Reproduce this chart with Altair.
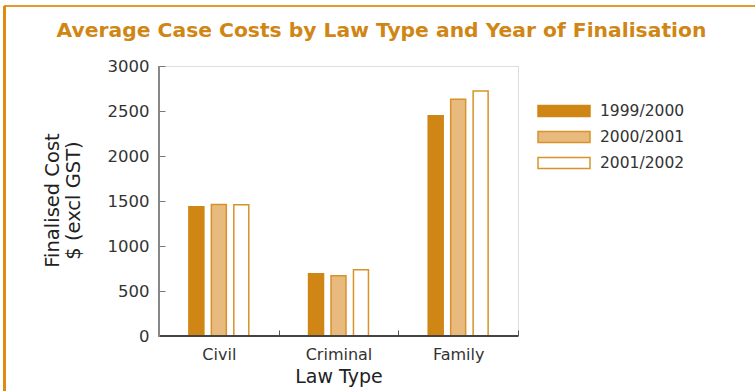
import altair as alt
import pandas as pd

law_types = ["Civil", "Criminal", "Family"]
years = ["1999/2000", "2000/2001", "2001/2002"]
civil = [1435, 1460, 1457]
criminal = [692, 670, 736]
family = [2447, 2630, 2723]

rows = []
for lt, vals in zip(law_types, [civil, criminal, family]):
    for yr, v in zip(years, vals):
        rows.append({"Law Type": lt, "Year": yr, "Cost": v})
df = pd.DataFrame(rows)

FONT = "DejaVu Sans"
ORANGE = "#D08614"
W, H = 359, 270
L, T = 159, 66

fills = ["#D08614", "#E8BA7E", "#FFFFFF"]
strokes = ["#D08614", "#D8922A", "#D8922A"]
offset_domain = ["_left"] + years + ["_right"]

bars = alt.Chart(df).mark_bar(strokeWidth=1.5).encode(
    x=alt.X("Law Type:N", sort=law_types,
            scale=alt.Scale(paddingInner=0, paddingOuter=0),
            axis=alt.Axis(title="Law Type", labelAngle=0, domain=False,
                          tickBand="extent", offset=-6, tickSize=6,
                          tickColor="#555", tickWidth=1,
                          labelPadding=10, labelFontSize=16, labelColor="#333",
                          labelFont=FONT, titleFont=FONT, titleFontSize=19,
                          titleFontWeight="normal", titleColor="#222",
                          titlePadding=5)),
    xOffset=alt.XOffset("Year:N",
                        scale=alt.Scale(domain=offset_domain,
                                        paddingInner=0.333, paddingOuter=0.33)),
    y=alt.Y("Cost:Q", scale=alt.Scale(domain=[0, 3000], nice=False),
            axis=alt.Axis(title=["Finalised Cost", "$ (excl GST)"],
                          values=[0, 500, 1000, 1500, 2000, 2500, 3000],
                          format="d",
                          grid=False, domain=False, offset=-6, tickSize=6,
                          tickColor="#777", labelPadding=10, labelFontSize=16.5,
                          labelColor="#333", labelFont=FONT, titleFont=FONT,
                          titleFontSize=19.5, titleFontWeight="normal",
                          titleColor="#222", titleX=-113, titleY=134,
                          titleBaseline="middle", titleAlign="center",
                          titleLineHeight=21)),
    fill=alt.Fill("Year:N", sort=years,
                  scale=alt.Scale(domain=years, range=fills),
                  legend=alt.Legend(title=None, orient="none",
                                    legendX=378, legendY=32,
                                    symbolType="M-1,-0.21L1,-0.21L1,0.21L-1,0.21Z",
                                    symbolSize=2704, symbolStrokeWidth=1.5,
                                    clipHeight=26, rowPadding=0,
                                    labelOffset=9, labelFontSize=15.5,
                                    labelFont=FONT, labelColor="#333")),
    stroke=alt.Stroke("Year:N", sort=years,
                      scale=alt.Scale(domain=years, range=strokes),
                      legend=None),
)

x_domain = alt.Chart(df).mark_rule(color="#444", strokeWidth=1.2).encode(
    x=alt.value(0), x2=alt.value(W), y=alt.value(H))
y_domain = alt.Chart(df).mark_rule(color="#888", strokeWidth=1.2).encode(
    x=alt.value(0), y=alt.value(0), y2=alt.value(H + 0.5))
frame_top = alt.Chart(df).mark_rule(color="#E39A2D", strokeWidth=2).encode(
    x=alt.value(4 - L), x2=alt.value(755 - L), y=alt.value(6 - T))
frame_left = alt.Chart(df).mark_rule(color="#E08A10", strokeWidth=2.5).encode(
    x=alt.value(4.5 - L), y=alt.value(6 - T), y2=alt.value(391 - T))

chart = alt.layer(bars, x_domain, y_domain, frame_top, frame_left).properties(
    width=W, height=H,
    title=alt.Title("Average Case Costs by Law Type and Year of Finalisation",
                    font=FONT, fontSize=20.3, fontWeight="bold", color=ORANGE,
                    anchor="middle", dx=43, dy=41),
    autosize=alt.AutoSizeParams(type="none"),
    padding={"left": L, "top": T, "right": 755 - L - W, "bottom": 391 - T - H},
).configure_view(stroke=None).configure(background="white")

chart.save("out.html", embed_options={"renderer": "svg", "actions": False})
